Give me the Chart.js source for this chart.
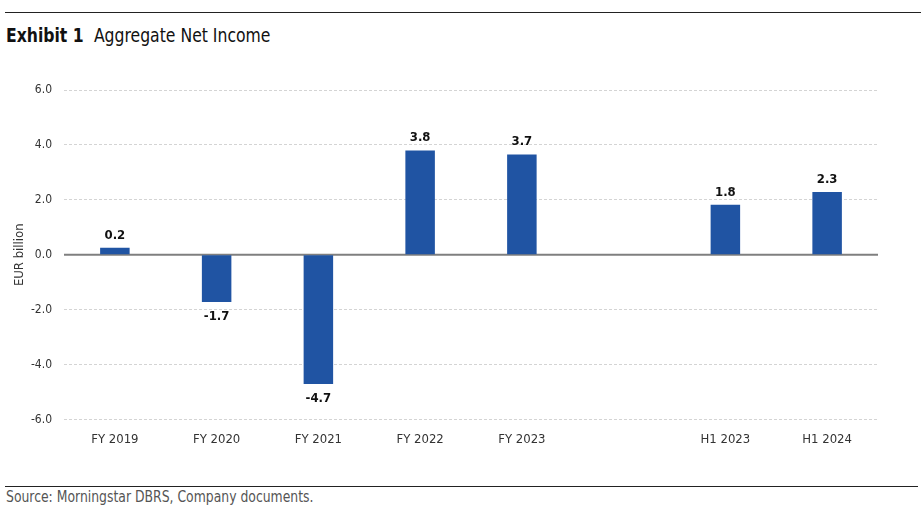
<!DOCTYPE html>
<html>
<head>
<meta charset="utf-8">
<script src="https://cdn.jsdelivr.net/npm/chart.js@4"></script>
<style>
  body { margin: 0; background: #fff; width: 921px; height: 531px; position: relative; overflow: hidden;
         font-family: "Liberation Sans Narrow", "DejaVu Sans Condensed", sans-serif; }
  .rule { position: absolute; left: 5px; right: 0; height: 1px; background: #222; }
  #title { position: absolute; left: 6px; top: 23px; font-size: 20px; color: #111; white-space: nowrap;
           transform: scaleX(0.87); transform-origin: left top; }
  #title b { margin-right: 6px; }
  #source { position: absolute; left: 6px; top: 488px; font-size: 15px; color: #555; white-space: nowrap;
            transform: scaleX(0.92); transform-origin: left top; }
  #wrap { position: absolute; left: 0; top: 70px; width: 921px; height: 381px; }
</style>
</head>
<body>
<div class="rule" style="top:12px"></div>
<div id="title"><b>Exhibit 1</b> Aggregate Net Income</div>
<div id="wrap"><canvas id="chart"></canvas></div>
<div class="rule" style="top:486px; right:3px"></div>
<div id="source">Source: Morningstar DBRS, Company documents.</div>
<script>
  // Net income by period, EUR billion (blank slot separates full-year and half-year)
  const categories = ['FY 2019', 'FY 2020', 'FY 2021', 'FY 2022', 'FY 2023', '', 'H1 2023', 'H1 2024'];
  const netIncome = [0.25, -1.72, -4.71, 3.8, 3.65, null, 1.82, 2.28];
  const valueLabels = ['0.2', '-1.7', '-4.7', '3.8', '3.7', '', '1.8', '2.3'];
  const yTicks = [-6, -4, -2, 0, 2, 4, 6];

  const fontFamily = '"Liberation Sans Narrow", "DejaVu Sans Condensed", sans-serif';

  const labelsAndZero = {
    id: 'labelsAndZero',
    beforeDatasetsDraw(chart) {
      const { ctx, chartArea, scales } = chart;
      const y0 = scales.y.getPixelForValue(0);
      ctx.save();
      ctx.strokeStyle = '#7f7f7f';
      ctx.lineWidth = 2;
      ctx.beginPath();
      ctx.moveTo(chartArea.left, y0);
      ctx.lineTo(chartArea.right, y0);
      ctx.stroke();
      ctx.restore();
    },
    afterDatasetsDraw(chart) {
      const { ctx } = chart;
      const meta = chart.getDatasetMeta(0);
      ctx.save();
      ctx.font = 'bold 13px ' + fontFamily;
      ctx.fillStyle = '#111';
      ctx.textAlign = 'center';
      meta.data.forEach((bar, i) => {
        const v = netIncome[i];
        if (v === null) return;
        if (v >= 0) {
          ctx.textBaseline = 'bottom';
          ctx.fillText(valueLabels[i], bar.x, bar.y - 6);
        } else {
          ctx.textBaseline = 'top';
          ctx.fillText(valueLabels[i], bar.x, bar.y + 8);
        }
      });
      ctx.restore();
    }
  };

  new Chart(document.getElementById('chart'), {
    type: 'bar',
    data: {
      labels: categories,
      datasets: [{
        data: netIncome,
        backgroundColor: '#2054a3',
        borderWidth: 0,
        barPercentage: 0.29,
        categoryPercentage: 1
      }]
    },
    options: {
      responsive: true,
      maintainAspectRatio: false,
      animation: false,
      layout: { padding: { top: 20, right: 43, bottom: 0, left: 12 } },
      plugins: { legend: { display: false }, tooltip: { enabled: false } },
      scales: {
        x: {
          grid: { display: false },
          border: { display: false },
          ticks: { color: '#333', font: { family: fontFamily, size: 13 }, padding: 4 }
        },
        y: {
          min: -6,
          max: 6,
          afterFit(scale) { scale.width = 52; },
          afterBuildTicks(scale) { scale.ticks = yTicks.map(v => ({ value: v })); },
          grid: {
            color: ctx => ctx.tick && ctx.tick.value === 0 ? 'rgba(0,0,0,0)' : '#d4d4d4',
            lineWidth: 1,
            drawTicks: false
          },
          border: { display: false, dash: [3, 2] },
          ticks: {
            color: '#333',
            padding: 12,
            font: { family: fontFamily, size: 12 },
            callback: v => v.toFixed(1)
          },
          title: {
            display: true,
            text: 'EUR billion',
            color: '#333',
            font: { family: fontFamily, size: 13 },
            padding: { top: 0, bottom: 0 }
          }
        }
      }
    },
    plugins: [labelsAndZero]
  });
</script>
</body>
</html>
